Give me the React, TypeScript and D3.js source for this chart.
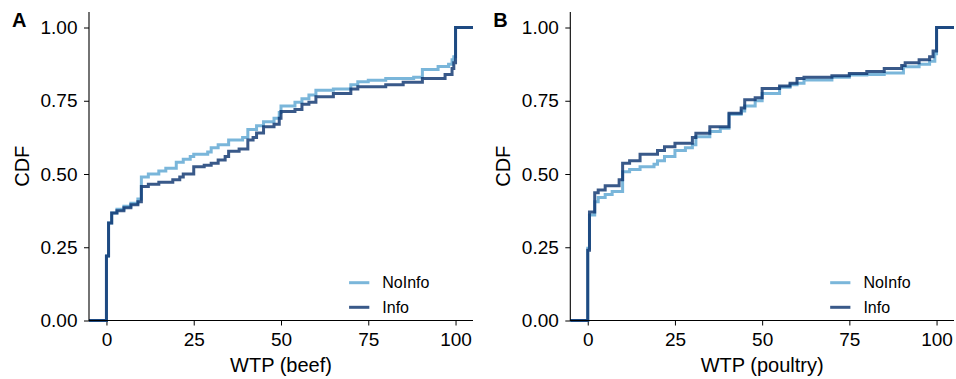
import React, { useEffect, useRef } from "react";
import * as d3 from "d3";

const groups = ["NoInfo", "Info"];
const groupColors = ["#6baed6", "#08306b"];
const groupOpacity = [0.9, 0.8];
const xTicks = [0, 25, 50, 75, 100];
const yTicks = [0, 0.25, 0.5, 0.75, 1];
const panelLabels = ["A", "B"];
const xTitles = ["WTP (beef)", "WTP (poultry)"];

// ECDF step breakpoints (x where the CDF jumps, value after the jump)
const beefNoInfoX = [0, 0.6, 1.5, 3, 5, 7, 9, 10, 12, 15, 17, 20, 22, 24, 25, 29, 30, 32, 35, 39, 40.5, 43, 45, 48, 49.5, 50, 54, 56, 58, 60, 65, 70, 72, 75, 80, 88, 90.5, 95, 98, 99, 99.5, 100];
const beefNoInfoY = [0.22, 0.333, 0.367, 0.38, 0.39, 0.4, 0.415, 0.49, 0.5, 0.51, 0.52, 0.54, 0.55, 0.56, 0.567, 0.575, 0.59, 0.6, 0.616, 0.625, 0.652, 0.665, 0.678, 0.69, 0.71, 0.732, 0.745, 0.757, 0.77, 0.786, 0.79, 0.805, 0.815, 0.82, 0.826, 0.83, 0.857, 0.867, 0.875, 0.89, 0.9, 1.0];
const beefInfoX = [0, 0.6, 1.5, 3, 5, 7, 9, 10, 12, 15, 19, 21, 22, 25, 28, 30, 32, 34, 35, 38, 40.5, 42, 43, 45, 48, 49.5, 50, 54, 56, 58, 60, 65, 70, 72, 80, 85, 90.5, 97, 99, 99.5, 100];
const beefInfoY = [0.22, 0.333, 0.367, 0.375, 0.385, 0.395, 0.405, 0.457, 0.465, 0.472, 0.48, 0.49, 0.5, 0.525, 0.53, 0.537, 0.548, 0.56, 0.578, 0.585, 0.616, 0.625, 0.64, 0.661, 0.67, 0.69, 0.713, 0.72, 0.738, 0.745, 0.764, 0.775, 0.79, 0.798, 0.805, 0.813, 0.826, 0.84, 0.86, 0.88, 1.0];
const poultryNoInfoX = [0, 0.5, 2, 3, 5, 7, 10, 12, 15, 19, 20, 22, 25, 28, 30, 31, 35, 38, 40.5, 44, 45, 48, 50, 55, 58, 60, 62, 70, 75, 80, 85, 90.5, 95, 98, 99.5, 100];
const poultryNoInfoY = [0.247, 0.36, 0.405, 0.42, 0.43, 0.44, 0.508, 0.515, 0.525, 0.533, 0.545, 0.56, 0.58, 0.59, 0.6, 0.627, 0.645, 0.656, 0.704, 0.715, 0.732, 0.75, 0.775, 0.796, 0.805, 0.81, 0.821, 0.83, 0.838, 0.84, 0.845, 0.866, 0.875, 0.885, 0.91, 1.0];
const poultryInfoX = [0, 0.5, 2, 3, 5, 9, 10, 12, 15, 20, 22, 25, 30, 31, 35, 40.5, 44, 45, 48, 50, 55, 58, 60, 62, 70, 75, 80, 85, 90, 91, 95, 98, 99, 100];
const poultryInfoY = [0.24, 0.37, 0.436, 0.445, 0.46, 0.48, 0.537, 0.545, 0.567, 0.58, 0.593, 0.605, 0.625, 0.639, 0.661, 0.707, 0.725, 0.753, 0.76, 0.792, 0.8, 0.81, 0.826, 0.83, 0.835, 0.843, 0.85, 0.86, 0.87, 0.88, 0.89, 0.9, 0.92, 1.0];

const panelData = [
  [
    [beefNoInfoX, beefNoInfoY],
    [beefInfoX, beefInfoY],
  ],
  [
    [poultryNoInfoX, poultryNoInfoY],
    [poultryInfoX, poultryInfoY],
  ],
];

const FONT = "'Liberation Sans', Arial, Helvetica, sans-serif";
const W = 956;
const H = 379;
const panelAxisX = [89, 570.3];
const panelRight = [473, 954];
const yBottom = 320.5;
const yTopValue = 1.053;

function Panel({ idx }: { idx: number }) {
  const xAxisRef = useRef<SVGGElement>(null);
  const yAxisRef = useRef<SVGGElement>(null);
  const x0 = panelAxisX[idx];
  const x1 = panelRight[idx];
  const x = d3.scaleLinear().domain([-5, 105]).range([x0, x1]);
  const y = d3.scaleLinear().domain([0, 1]).range([yBottom, 27.5]);

  useEffect(() => {
    const xa = d3
      .axisBottom(x)
      .tickValues(xTicks)
      .tickSize(5)
      .tickSizeOuter(0)
      .tickPadding(7.5)
      .tickFormat(d3.format("d") as any);
    const ya = d3
      .axisLeft(y)
      .tickValues(yTicks)
      .tickSize(5)
      .tickSizeOuter(0)
      .tickPadding(6.5)
      .tickFormat(d3.format(".2f") as any);
    const gx = d3.select(xAxisRef.current!);
    gx.call(xa as any);
    gx.select(".domain").remove();
    gx.selectAll("text").attr("font-size", 19).attr("font-family", FONT).attr("fill", "#000");
    gx.selectAll("line").attr("stroke", "#000");
    const gy = d3.select(yAxisRef.current!);
    gy.call(ya as any);
    gy.select(".domain").remove();
    gy.selectAll("text").attr("font-size", 19).attr("font-family", FONT).attr("fill", "#000");
    gy.selectAll("line").attr("stroke", "#000");
  }, [idx]);

  const line = d3
    .line<[number, number]>()
    .x((d) => x(d[0]))
    .y((d) => y(d[1]))
    .curve(d3.curveStepAfter);

  const series = panelData[idx].map(([xs, ys]) => {
    const pts: [number, number][] = [[-5, 0]];
    xs.forEach((v, i) => pts.push([v, ys[i]]));
    pts.push([105, 1]);
    return pts;
  });

  const legendX0 = x(69.5);
  const legendX1 = x(75.3);
  const legendY = [282.7, 307.3];

  return (
    <g>
      <g ref={xAxisRef} transform={`translate(0,${yBottom})`} />
      <g ref={yAxisRef} transform={`translate(${x0},0)`} />
      {series.map((pts, i) => (
        <path
          key={i}
          d={line(pts) || ""}
          fill="none"
          stroke={groupColors[i]}
          strokeOpacity={groupOpacity[i]}
          strokeWidth={3}
          strokeLinejoin="miter"
          strokeLinecap="butt"
        />
      ))}
      <line x1={x0} x2={x0} y1={y(yTopValue)} y2={yBottom + 0.5} stroke="#000" strokeWidth={1.1} />
      <line x1={x0} x2={x1} y1={yBottom} y2={yBottom} stroke="#000" strokeWidth={1.1} />
      {groups.map((g, i) => (
        <g key={g}>
          <line
            x1={legendX0}
            x2={legendX1}
            y1={legendY[i]}
            y2={legendY[i]}
            stroke={groupColors[i]}
            strokeOpacity={groupOpacity[i]}
            strokeWidth={3}
          />
          <text x={legendX1 + 13} y={legendY[i] + 5.6} fontSize={16} fontFamily={FONT} fill="#000">
            {g}
          </text>
        </g>
      ))}
      <text
        x={(x0 + x1) / 2}
        y={371.5}
        textAnchor="middle"
        fontSize={20}
        fontFamily={FONT}
        fill="#000"
      >
        {xTitles[idx]}
      </text>
      <text
        transform={`translate(${x0 - 60},${(y(yTopValue) + yBottom) / 2}) rotate(-90)`}
        textAnchor="middle"
        fontSize={20}
        fontFamily={FONT}
        fill="#000"
      >
        CDF
      </text>
      <text
        x={x0 - 77}
        y={26.7}
        fontSize={20}
        fontWeight="bold"
        fontFamily={FONT}
        fill="#000"
      >
        {panelLabels[idx]}
      </text>
    </g>
  );
}

export default function App() {
  return (
    <svg
      width={W}
      height={H}
      viewBox={`0 0 ${W} ${H}`}
      style={{ position: "absolute", left: 0, top: 0, background: "#fff" }}
    >
      <rect width={W} height={H} fill="#fff" />
      <Panel idx={0} />
      <Panel idx={1} />
    </svg>
  );
}
